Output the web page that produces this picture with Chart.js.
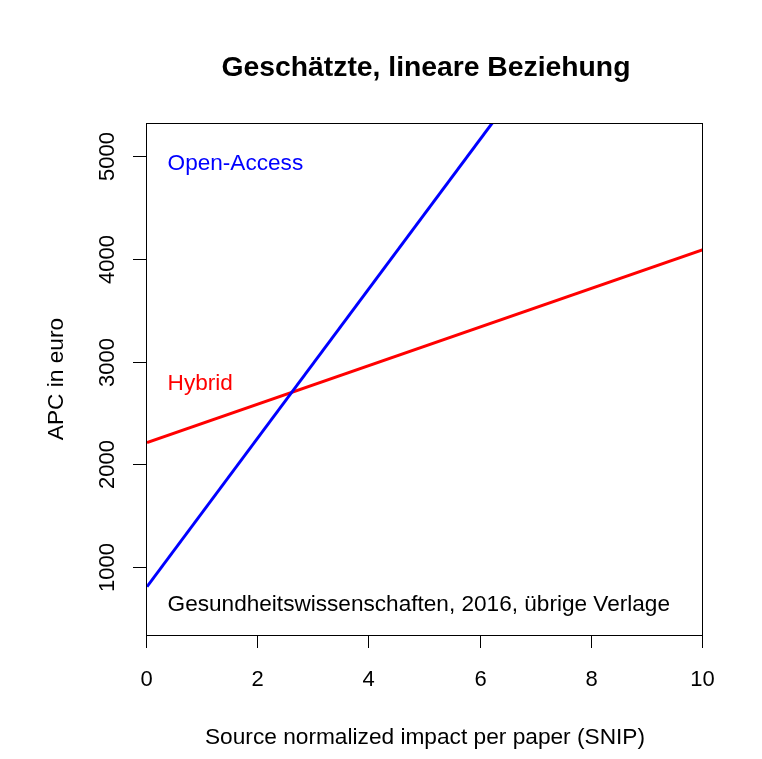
<!DOCTYPE html>
<html>
<head>
<meta charset="utf-8">
<script src="https://cdn.jsdelivr.net/npm/chart.js@4.4.1/dist/chart.umd.min.js"></script>
<style>
  html, body { margin: 0; padding: 0; background: #fff; }
  #wrap { width: 762px; height: 759px; }
</style>
</head>
<body>
<div id="wrap"><canvas id="apcChart" width="762" height="759"></canvas></div>
<script>
// values
const snipEnds = [0, 10];
const openAccessApc = [805, 8085];
const hybridApc = [2210, 4090];
const xTicks = [0, 2, 4, 6, 8, 10];
const yTicks = [1000, 2000, 3000, 4000, 5000];
const yRange = [334, 5326];

const FONT = '"Liberation Sans", Arial, sans-serif';

const toPoints = (xs, ys) => xs.map((x, i) => ({ x: x, y: ys[i] }));

// R-style axes, box and text drawn on top of the chart area
const baseAxes = {
    id: 'baseAxes',
    afterDraw(chart) {
        const ctx = chart.ctx;
        const { left, right, top, bottom } = chart.chartArea;
        const xs = chart.scales.x, ys = chart.scales.y;
        ctx.save();
        ctx.strokeStyle = '#000';
        ctx.lineWidth = 1;
        ctx.strokeRect(left - 0.5, top + 0.5, right - left, bottom - top);

        ctx.fillStyle = '#000';
        ctx.font = '22px ' + FONT;
        // x ticks
        ctx.textAlign = 'center';
        ctx.textBaseline = 'alphabetic';
        xTicks.forEach(t => {
            const px = Math.round(xs.getPixelForValue(t)) - 0.5;
            ctx.beginPath();
            ctx.moveTo(px, bottom);
            ctx.lineTo(px, bottom + 13);
            ctx.stroke();
            ctx.fillText(String(t), px, 686);
        });
        // y ticks
        yTicks.forEach(t => {
            const py = Math.round(ys.getPixelForValue(t)) + 0.5;
            ctx.beginPath();
            ctx.moveTo(left - 0.5, py);
            ctx.lineTo(left - 14, py);
            ctx.stroke();
            ctx.save();
            ctx.translate(114, py);
            ctx.rotate(-Math.PI / 2);
            ctx.fillText(String(t), 0, 0);
            ctx.restore();
        });

        // axis titles
        ctx.font = '22.7px ' + FONT;
        const cx = (left + right) / 2, cy = (top + bottom) / 2;
        ctx.fillText('Source normalized impact per paper (SNIP)', cx, 744);
        ctx.save();
        ctx.translate(63, cy);
        ctx.rotate(-Math.PI / 2);
        ctx.fillText('APC in euro', 0, 0);
        ctx.restore();

        // main title
        ctx.font = 'bold 28.3px ' + FONT;
        ctx.fillText('Geschätzte, lineare Beziehung', cx + 1, 76);

        // labels inside the plot
        ctx.font = '22.6px ' + FONT;
        ctx.textAlign = 'left';
        const lx = xs.getPixelForValue(0.37);
        ctx.fillStyle = '#0000ff';
        ctx.fillText('Open-Access', lx, ys.getPixelForValue(4870));
        ctx.fillStyle = '#ff0000';
        ctx.fillText('Hybrid', lx, ys.getPixelForValue(2720));
        ctx.fillStyle = '#000';
        ctx.fillText('Gesundheitswissenschaften, 2016, übrige Verlage', lx, ys.getPixelForValue(570));
        ctx.restore();
    }
};

document.addEventListener('DOMContentLoaded', () => {
    const ctx = document.getElementById('apcChart').getContext('2d');
    new Chart(ctx, {
        type: 'scatter',
        data: {
            datasets: [{
                label: 'Open-Access',
                data: toPoints(snipEnds, openAccessApc),
                showLine: true,
                borderColor: '#0000ff',
                borderWidth: 3,
                pointRadius: 0,
                clip: 0
            }, {
                label: 'Hybrid',
                data: toPoints(snipEnds, hybridApc),
                showLine: true,
                borderColor: '#ff0000',
                borderWidth: 3,
                pointRadius: 0,
                clip: 0
            }]
        },
        options: {
            responsive: false,
            animation: false,
            layout: { padding: { left: 147, right: 59, top: 123, bottom: 124 } },
            plugins: {
                legend: { display: false },
                tooltip: { enabled: false },
                title: { display: false }
            },
            scales: {
                x: { type: 'linear', min: 0, max: 10, display: false },
                y: { type: 'linear', min: yRange[0], max: yRange[1], display: false }
            }
        },
        plugins: [baseAxes]
    });
});
</script>
</body>
</html>
